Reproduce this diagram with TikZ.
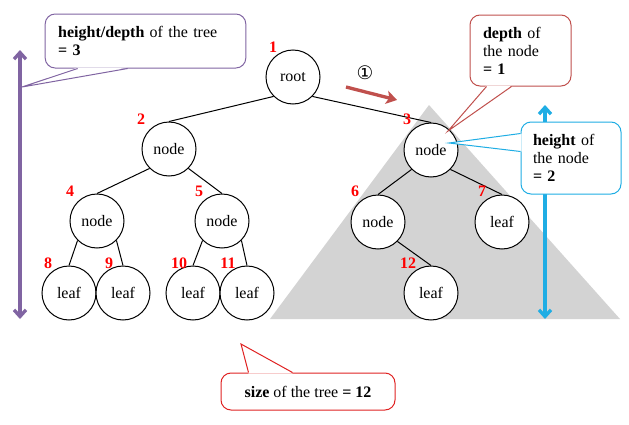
\documentclass[tikz,border=0pt]{standalone}
\usepackage{fontspec}
\setmainfont{Liberation Serif}
\newfontfamily\symfont{DejaVu Sans}
\usetikzlibrary{arrows.meta,calc}

\definecolor{cpurple}{HTML}{8064A2}
\definecolor{cbrown}{HTML}{C0504D}
\definecolor{cblue}{HTML}{1FADE4}
\definecolor{cred}{HTML}{E02222}
\definecolor{cgray}{HTML}{D3D3D3}

\tikzset{
  tn/.style={circle, draw, fill=white, line width=0.75pt, minimum size=40.5pt, inner sep=0pt, font=\fontsize{12}{14}\selectfont},
  num/.style={text=red, inner sep=0pt, font=\fontsize{12}{14}\selectfont\bfseries},
  edge/.style={line width=0.75pt},
  callout/.style={draw, fill=white, rounded corners=7.5pt, line width=0.75pt, inner sep=0pt, font=\fontsize{12}{13.5}\selectfont},
  barb/.style={{Straight Barb[length=5pt,width=9pt]}-{Straight Barb[length=5pt,width=9pt]}}
}

\begin{document}
\begin{tikzpicture}[x=0.75pt, y=-0.75pt]
  \useasboundingbox (0,0) rectangle (629,425);

  % Subtree of node 3
  \fill[cgray] (429,105) -- (620,319) -- (270,319) -- cycle;

  % Tree nodes
  \node[tn] (root) at (293,77) {root};
  \node[tn] (n2) at (169,149) {node};
  \node[tn] (n3) at (431,150) {node};
  \node[tn] (n4) at (97,221) {node};
  \node[tn] (n5) at (222,221) {node};
  \node[tn] (n6) at (378,222) {node};
  \node[tn] (n7) at (502,222) {leaf};
  \node[tn] (n8) at (69,293) {leaf};
  \node[tn] (n9) at (123,293) {leaf};
  \node[tn] (n10) at (193,293) {leaf};
  \node[tn] (n11) at (247,293) {leaf};
  \node[tn] (n12) at (431,293) {leaf};

  % Edges
  \draw[edge] (root.south west) -- (n2.north);
  \draw[edge] (root.south east) -- (n3.north);
  \draw[edge] (n2.south west) -- (n4.north);
  \draw[edge] (n2.south east) -- (n5.north);
  \draw[edge] (n3.south west) -- (n6.north);
  \draw[edge] (n3.south east) -- (n7.north);
  \draw[edge] (n4.south west) -- (n8.north);
  \draw[edge] (n4.south east) -- (n9.north);
  \draw[edge] (n5.south west) -- (n10.north);
  \draw[edge] (n5.south east) -- (n11.north);
  \draw[edge] (n6.south east) -- (n12.north);

  % Numbers
  \node[num] (k1) at (273,47) {1};
  \node[num] (k2) at (141,119) {2};
  \node[num] (k3) at (407,119) {3};
  \node[num] (k4) at (70,191) {4};
  \node[num] (k5) at (199,191) {5};
  \node[num] (k6) at (355,191) {6};
  \node[num] (k7) at (482,191) {7};
  \node[num] (k8) at (48,263) {8};
  \node[num] (k9) at (109,263) {9};
  \node[num] (k10) at (179,263) {10};
  \node[num] (k11) at (228,263) {11};
  \node[num] (k12) at (408,263) {12};

  % Height of the tree
  \coordinate (ptop) at (20,50);
  \coordinate (pbot) at (20,319);
  \draw[cpurple, line width=2.5pt, barb] (ptop) -- (pbot);

  % Height of the node
  \coordinate (btop) at (545,105);
  \coordinate (bbot) at (545,319);
  \draw[cblue, line width=2.5pt, barb] (btop) -- (bbot);

  % Step 1
  \coordinate (ra) at (346,87);
  \coordinate (rb) at (397,100);
  \draw[cbrown, line width=2.5pt, -{Stealth[length=8pt,width=10pt,inset=2pt]}] (ra) -- (rb);
  \node[font=\symfont\fontsize{14}{16}\selectfont, inner sep=0pt] (c1) at (365,73) {①};

  % Callouts
  \node[callout, draw=cpurple, text width=131pt, inner xsep=9.75pt, minimum height=40.5pt, align=left] (hd) at (145.5,41)
    {\textbf{height/depth} of the tree\\\textbf{= 3}};
  \coordinate (hdtip) at (22,87);
  \fill[white] ($(hd.south west)+(33,-1)$) -- (hdtip) -- ($(hd.south west)+(83,-1)$) -- cycle;
  \draw[cpurple, line width=0.75pt] ($(hd.south west)+(33,0)$) -- (hdtip) -- ($(hd.south west)+(83,0)$);

  \node[callout, draw=cbrown, text width=56.25pt, inner xsep=9.75pt, minimum height=53.25pt, align=left] (dn) at (520.5,50.5)
    {\textbf{depth} of\\the node\\\textbf{= 1}};
  \coordinate (dntip) at (448,131);
  \fill[white] ($(dn.south west)+(17,-1)$) -- (dntip) -- ($(dn.south west)+(42,-1)$) -- cycle;
  \draw[cbrown, line width=0.75pt] ($(dn.south west)+(17,0)$) -- (dntip) -- ($(dn.south west)+(42,0)$);

  \node[callout, draw=cblue, text width=57pt, inner xsep=9pt, minimum height=54pt, align=left] (hn) at (571,158)
    {\textbf{height} of\\the node\\\textbf{= 2}};
  \coordinate (hntip) at (449,143);
  \fill[white] ($(hn.north west)+(1,12)$) -- (hntip) -- ($(hn.north west)+(1,30)$) -- cycle;
  \draw[cblue, line width=0.75pt] ($(hn.north west)+(0,12)$) -- (hntip) -- ($(hn.north west)+(0,30)$);

  \node[callout, draw=cred, minimum width=130.5pt, minimum height=27.75pt] (sz) at (308,391.5)
    {\textbf{size} of the tree \textbf{= 12}};
  \coordinate (sztip) at (241,344);
  \fill[white] ($(sz.north west)+(28,1)$) -- (sztip) -- ($(sz.north west)+(72,1)$) -- cycle;
  \draw[cred, line width=0.75pt] ($(sz.north west)+(28,0)$) -- (sztip) -- ($(sz.north west)+(72,0)$);
\end{tikzpicture}
\end{document}
